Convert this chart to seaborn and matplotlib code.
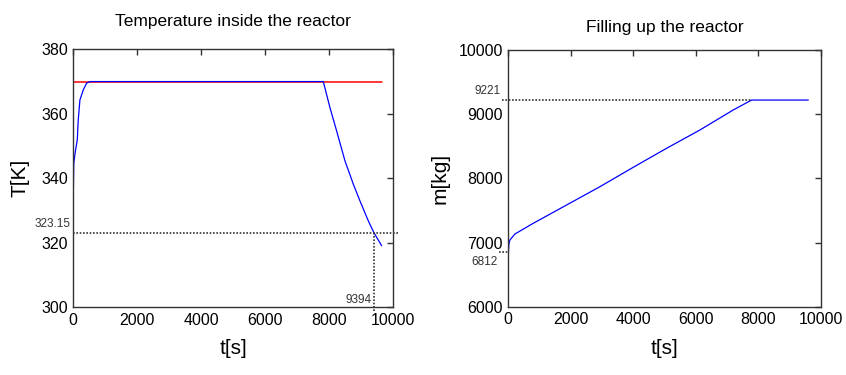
import matplotlib
matplotlib.use('Agg')
import matplotlib.pyplot as plt
import seaborn as sns
import pandas as pd

# temperature inside the reactor
t_temp = [0, 8, 16, 60, 125, 156, 208, 312, 417, 521, 7812, 8021, 8229, 8490, 8750, 8958, 9219, 9394, 9636]
T_temp = [333.3, 340.0, 344.6, 348.0, 351.9, 358.1, 364.3, 367.4, 369.5, 370.0, 370.0,
          361.9, 354.7, 345.4, 338.2, 333.0, 326.8, 323.15, 319.1]
t_set = [0, 9636]
T_set = [370, 370]
T_limit = 323.15
t_limit = 9394

# filling up the reactor
t_mass = [0, 20, 53, 213, 800, 1867, 2934, 4001, 5068, 6135, 7202, 7789, 9603]
m_mass = [6812, 6980, 7042, 7135, 7302, 7587, 7872, 8174, 8470, 8755, 9067, 9221, 9221]
m_start = 6812
m_end = 9221
t_end = 7789

x_ticks = [0, 2000, 4000, 6000, 8000, 10000]

sns.set_style('white')
plt.rcParams['font.family'] = ['Liberation Sans', 'DejaVu Sans']
plt.rcParams['text.color'] = 'black'
plt.rcParams['axes.labelcolor'] = 'black'
plt.rcParams['xtick.labelcolor'] = 'black'
plt.rcParams['ytick.labelcolor'] = 'black'

fig = plt.figure(figsize=(8.46, 3.75), dpi=100)
ax1 = fig.add_axes([0.0866, 0.1805, 0.3783, 0.688])
ax2 = fig.add_axes([0.6008, 0.1816, 0.3693, 0.685])

df_temp = pd.DataFrame({'t': t_temp, 'T': T_temp})
df_set = pd.DataFrame({'t': t_set, 'T': T_set})
df_mass = pd.DataFrame({'t': t_mass, 'm': m_mass})

dot_kw = dict(linestyle=(0, (1, 1)), color='#333333', linewidth=1.2, clip_on=False)
note_kw = dict(fontsize=8.5, color='#333333', annotation_clip=False)

# left panel
sns.lineplot(data=df_set, x='t', y='T', ax=ax1, color='#ff0000', linewidth=1.1)
sns.lineplot(data=df_temp, x='t', y='T', ax=ax1, color='#0000ff', linewidth=0.9)
ax1.plot([0, 10150], [T_limit, T_limit], **dot_kw)
ax1.plot([t_limit, t_limit], [299, T_limit], **dot_kw)
ax1.annotate(f'{T_limit:.2f}', xy=(0, T_limit), xytext=(-2, 2), textcoords='offset points',
             ha='right', va='bottom', **note_kw)
ax1.annotate(str(t_limit), xy=(t_limit, 300), xytext=(-2, 1), textcoords='offset points',
             ha='right', va='bottom', **note_kw)
ax1.set_xlim(0, 10000)
ax1.set_ylim(300, 380)
ax1.set_yticks([300, 320, 340, 360, 380])
ax1.set_title('Temperature inside the reactor', fontsize=12.5, pad=17)
ax1.set_xlabel('t[s]', fontsize=15, labelpad=8)
ax1.set_ylabel('T[K]', fontsize=15, labelpad=8)

# right panel
sns.lineplot(data=df_mass, x='t', y='m', ax=ax2, color='#0000ff', linewidth=0.9)
ax2.plot([-210, t_end], [m_end, m_end], **dot_kw)
ax2.plot([-300, 0], [m_start + 40, m_start + 40], **dot_kw)
ax2.annotate(str(m_end), xy=(-210, m_end), xytext=(-1, 2), textcoords='offset points',
             ha='right', va='bottom', **note_kw)
ax2.annotate(str(m_start), xy=(-300, m_start), xytext=(-1, -1), textcoords='offset points',
             ha='right', va='top', **note_kw)
ax2.set_xlim(0, 10000)
ax2.set_ylim(6000, 10000)
ax2.set_yticks([6000, 7000, 8000, 9000, 10000])
ax2.set_title('Filling up the reactor', fontsize=12.5, pad=13)
ax2.set_xlabel('t[s]', fontsize=15, labelpad=8)
ax2.set_ylabel('m[kg]', fontsize=15, labelpad=6)

for ax in (ax1, ax2):
    ax.set_xticks(x_ticks)
    ax.tick_params(direction='in', length=4, width=1, top=True, right=True,
                   labelsize=11.5, color='#333333', pad=4)
    for sp in ax.spines.values():
        sp.set_color('#333333')
        sp.set_linewidth(1.0)
    ax.grid(False)

fig.savefig('out.png', dpi=100)
